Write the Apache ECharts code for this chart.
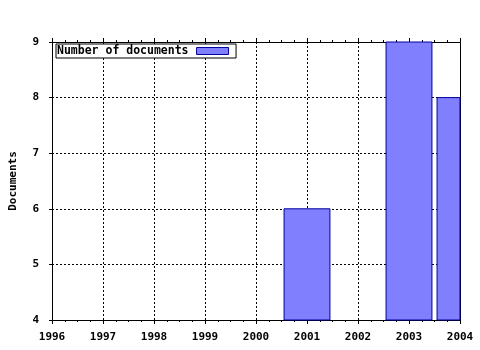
<!DOCTYPE html>
<html>
<head>
<meta charset="utf-8">
<script src="https://cdn.jsdelivr.net/npm/echarts@6/dist/echarts.min.js"></script>
<style>
html,body{margin:0;padding:0;background:#fff;}
#c{width:480px;height:350px;}
</style>
</head>
<body>
<div id="c"></div>
<script>
const years = [2001, 2003, 2004];
const documents = [6, 9, 8];
const seriesName = 'Number of documents';
const yAxisName = 'Documents';
const xMin = 1996, xMax = 2004;
const yMin = 4, yMax = 9;
const barFraction = 0.9;

const font = 'DejaVu Sans Mono';
const barFill = '#8080ff', barBorder = '#00009a';
const chart = echarts.init(document.getElementById('c'), null, {renderer: 'canvas'});
const dotted = {color: '#000', width: 1, type: [2, 2]};

function renderBar(params, api) {
  const x = api.value(0), v = api.value(1);
  const p1 = api.coord([x - barFraction / 2, v]);
  const p2 = api.coord([x + barFraction / 2, yMin]);
  const cs = params.coordSys;
  const shape = echarts.graphic.clipRectByRect(
    {x: p1[0], y: p1[1], width: p2[0] - p1[0], height: p2[1] - p1[1]},
    {x: cs.x, y: cs.y, width: cs.width, height: cs.height}
  );
  if (!shape) return null;
  return {
    type: 'rect',
    shape: shape,
    style: {fill: barFill, stroke: barBorder, lineWidth: 1}
  };
}

chart.setOption({
  animation: false,
  backgroundColor: '#fff',
  grid: {left: 50, right: 20, top: 42, bottom: 30, containLabel: false},
  legend: {
    show: true,
    left: 56, top: 44,
    align: 'right',
    orient: 'horizontal',
    itemWidth: 32, itemHeight: 7,
    padding: [1, 7, 1, 1],
    borderColor: '#000', borderWidth: 1, borderRadius: 0,
    backgroundColor: '#fff',
    icon: 'rect',
    itemStyle: {color: barFill, borderColor: barBorder, borderWidth: 1},
    textStyle: {fontFamily: font, fontWeight: 'bold', fontSize: 11.5, color: '#000', padding: [0, 3, 0, 0]},
    data: [seriesName]
  },
  xAxis: [{
    type: 'value', min: xMin, max: xMax, interval: 1, position: 'bottom',
    axisLine: {show: true, onZero: false, lineStyle: {color: '#000', width: 1}},
    axisTick: {show: true, inside: false, length: 4, lineStyle: {color: '#000'}},
    minorTick: {show: true, splitNumber: 4, length: 2, lineStyle: {color: '#000'}},
    axisLabel: {margin: 12, fontFamily: font, fontWeight: 'bold', fontSize: 11, color: '#000', formatter: v => String(v)},
    splitLine: {show: true, lineStyle: dotted}
  }, {
    type: 'value', min: xMin, max: xMax, interval: 1, position: 'top',
    axisLine: {show: true, onZero: false, lineStyle: {color: '#000', width: 1}},
    axisTick: {show: true, inside: false, length: 4, lineStyle: {color: '#000'}},
    minorTick: {show: true, splitNumber: 4, length: 2, lineStyle: {color: '#000'}},
    axisLabel: {show: false},
    splitLine: {show: false}
  }],
  yAxis: [{
    type: 'value', min: yMin, max: yMax, interval: 1, position: 'left',
    name: yAxisName, nameLocation: 'middle', nameGap: 33, nameRotate: 90,
    nameTextStyle: {fontFamily: font, fontWeight: 'bold', fontSize: 11, color: '#000'},
    axisLine: {show: true, onZero: false, lineStyle: {color: '#000', width: 1}},
    axisTick: {show: true, inside: false, length: 3, lineStyle: {color: '#000'}},
    axisLabel: {margin: 13, fontFamily: font, fontWeight: 'bold', fontSize: 11, color: '#000'},
    splitLine: {show: true, lineStyle: dotted}
  }, {
    type: 'value', min: yMin, max: yMax, interval: 1, position: 'right',
    axisLine: {show: true, onZero: false, lineStyle: {color: '#000', width: 1}},
    axisTick: {show: false},
    axisLabel: {show: false},
    splitLine: {show: false}
  }],
  series: [{
    name: seriesName,
    type: 'custom',
    xAxisIndex: 0, yAxisIndex: 0,
    renderItem: renderBar,
    itemStyle: {color: barFill, borderColor: barBorder, borderWidth: 1},
    encode: {x: 0, y: 1},
    data: years.map((y, i) => [y, documents[i]])
  }]
});
</script>
</body>
</html>
